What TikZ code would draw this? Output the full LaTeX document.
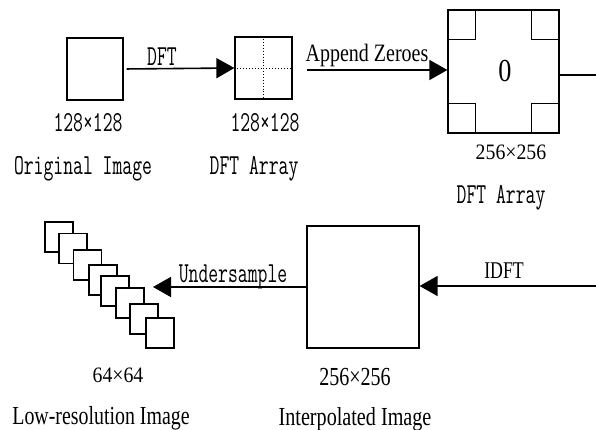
\documentclass[tikz,border=0pt]{standalone}
\usepackage{fontspec}
\usepackage{graphicx}
\setmainfont{Liberation Serif}
\usetikzlibrary{arrows.meta}
\newcommand\mono[1]{\scalebox{0.66}[1]{\fontsize{29}{29}\selectfont\ttfamily #1}}
\newcommand\ser[3]{\scalebox{#2}[1]{\fontsize{#1}{#1}\selectfont #3}}
\begin{document}
\begin{tikzpicture}[x=1pt,y=-1pt,
  box/.style={draw, line width=1.2pt, minimum width=#1, inner sep=0pt},
  conn/.style={line width=1.6pt},
  arr/.style={conn, -{Triangle[length=18pt,width=20pt]}},
  lbl/.style={anchor=base, inner sep=0pt},
  small/.style={draw, fill=white, line width=1.2pt, minimum width=28pt, minimum height=30pt, inner sep=0pt}]
\useasboundingbox (0,0) rectangle (596,430);
% top row
\node[box=56pt, minimum height=62pt] (orig) at (95,69) {};
\node[box=57pt, minimum height=62pt] (dft) at (263.5,68) {};
\draw[dotted, line width=0.9pt] (dft.north) -- (dft.south);
\draw[dotted, line width=0.9pt] (dft.west) -- (dft.east);
\node[box=111pt, minimum height=123pt] (big) at (503.5,71.5) {};
\draw[line width=1.2pt] (big.north west) rectangle ++(28,30);
\draw[line width=1.2pt] (big.north east) rectangle ++(-28,30);
\draw[line width=1.2pt] (big.south west) rectangle ++(28,-30);
\draw[line width=1.2pt] (big.south east) rectangle ++(-28,-30);
\node[lbl] (zero) at (505,82) {\ser{32}{0.82}{0}};
\draw[arr, shorten <=3pt] (orig.east) -- (dft.west);
\node[lbl] (tdft) at (162,66) {\mono{DFT}};
\draw[arr, shorten <=14pt] (dft.east |- 0,70) -- (big.west |- 0,70);
\node[lbl] (tapp) at (367,62) {\ser{25}{0.8}{Append Zeroes}};
\coordinate (rout) at (596,75);
\draw[conn] (big.east |- rout) -- (rout);
\node[lbl] (s1a) at (88,132) {\mono{128×128}};
\node[lbl] (s1b) at (265,132) {\mono{128×128}};
\node[lbl] (n1) at (83,175) {\mono{Original Image}};
\node[lbl] (n2) at (254,175) {\mono{DFT Array}};
\node[lbl] (s2) at (511,160) {\ser{22}{0.9}{256×256}};
\node[lbl] (n3) at (501,204) {\mono{DFT Array}};
% bottom row
\node[box=112pt, minimum height=122pt] (interp) at (363,287) {};
\coordinate (rin) at (596,286);
\draw[arr] (rin) -- (interp.east |- rin);
\node[lbl] (tidft) at (504,278) {\ser{24}{0.74}{IDFT}};
\coordinate (ltip) at (153,287);
\draw[arr] (interp.west) -- (ltip);
\node[lbl] (tund) at (233,282) {\mono{Undersample}};
\node[small] (q1) at (59,237) {};
\node[small] (q2) at (73,248.5) {};
\node[small] (q3) at (87.5,265) {};
\node[small] (q4) at (103,280) {};
\node[small] (q5) at (115,291) {};
\node[small] (q6) at (130,303) {};
\node[small] (q7) at (144,319) {};
\node[small] (q8) at (160,333) {};
\node[lbl] (s3) at (118,382) {\ser{22}{0.9}{64×64}};
\node[lbl] (s4) at (355,385) {\ser{26}{0.77}{256×256}};
\node[lbl] (n4) at (101,424) {\ser{26}{0.765}{Low-resolution Image}};
\node[lbl] (n5) at (355,425) {\ser{26}{0.775}{Interpolated Image}};
\end{tikzpicture}
\end{document}
